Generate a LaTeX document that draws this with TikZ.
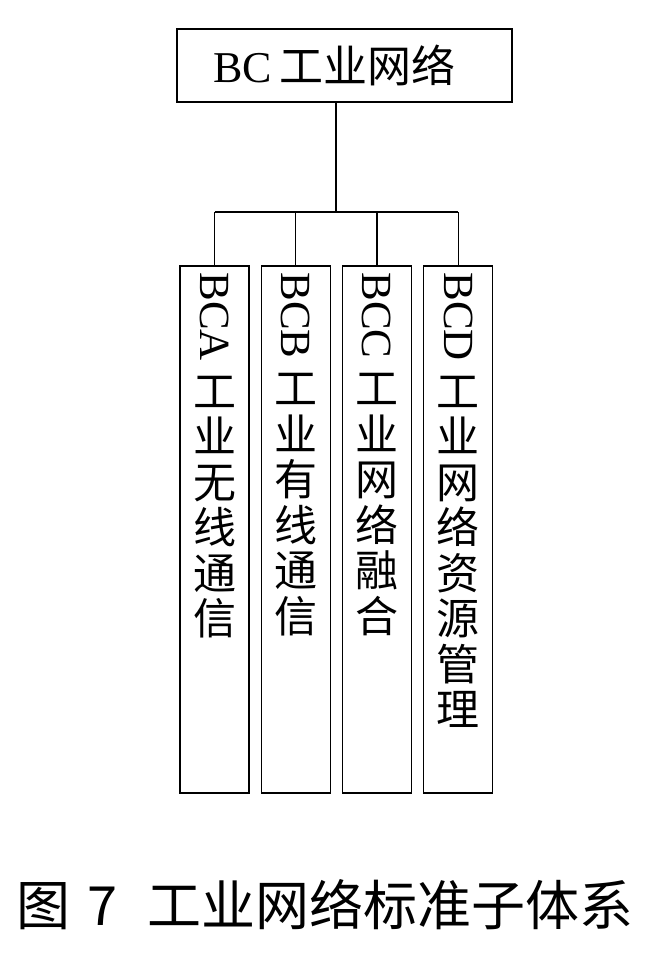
\documentclass[tikz,border=0pt]{standalone}
\usepackage{fontspec}
\setmainfont{Liberation Serif}
\newfontfamily\cjk{Noto Sans CJK SC}
\usepackage{graphicx}
\usetikzlibrary{positioning}

\begin{document}
\begin{tikzpicture}[
  x=1pt, y=-1pt,
  node distance=11pt,
  rootbox/.style={draw, line width=1.2pt, minimum width=335pt, minimum height=73pt,
                  text width=263pt, inner xsep=36pt, align=left,
                  font=\fontsize{44}{44}\selectfont},
  leaf/.style={draw, line width=1.2pt, minimum width=69pt, minimum height=527pt,
               inner sep=0pt},
  vtext/.style={align=center, inner sep=0pt, font=\fontsize{43}{45.5}\selectfont},
  link/.style={line width=1.2pt},
]
  \useasboundingbox (0,0) rectangle (655,955);

  \node[rootbox] (bc) at (344.5,65.5) {BC{\cjk\hspace{8pt}工业网络}};

  \node[leaf] (bca) at (214.5,529.5) {};
  \node[leaf, right=of bca] (bcb) {};
  \node[leaf, right=of bcb] (bcc) {};
  \node[leaf, right=of bcc] (bcd) {};

  % vertical labels
  \node[vtext, below=7pt of bca.north] (bcalabel)
    {\rotatebox[origin=c]{-90}{BCA}\\[14pt]\cjk 工\\\cjk 业\\\cjk 无\\\cjk 线\\\cjk 通\\\cjk 信};
  \node[vtext, below=7pt of bcb.north] (bcblabel)
    {\rotatebox[origin=c]{-90}{BCB}\\[14pt]\cjk 工\\\cjk 业\\\cjk 有\\\cjk 线\\\cjk 通\\\cjk 信};
  \node[vtext, below=7pt of bcc.north] (bcclabel)
    {\rotatebox[origin=c]{-90}{BCC}\\[14pt]\cjk 工\\\cjk 业\\\cjk 网\\\cjk 络\\\cjk 融\\\cjk 合};
  \node[vtext, below=7pt of bcd.north] (bcdlabel)
    {\rotatebox[origin=c]{-90}{BCD}\\[14pt]\cjk 工\\\cjk 业\\\cjk 网\\\cjk 络\\\cjk 资\\\cjk 源\\\cjk 管\\\cjk 理};

  % tree lines
  \coordinate (fork) at (336,212);
  \draw[link] (bc.south -| fork) -- (fork);
  \draw[link] (bca.north |- fork) -- (bcd.north |- fork);
  \foreach \n in {bca,bcb,bcc,bcd}
    \draw[link] (\n.north) -- (\n.north |- fork);

  \node[font=\cjk\fontsize{54}{54}\selectfont] (caption) at (325,905)
    {图\hspace{18pt}7\hspace{30pt}工业网络标准子体系};
\end{tikzpicture}
\end{document}
